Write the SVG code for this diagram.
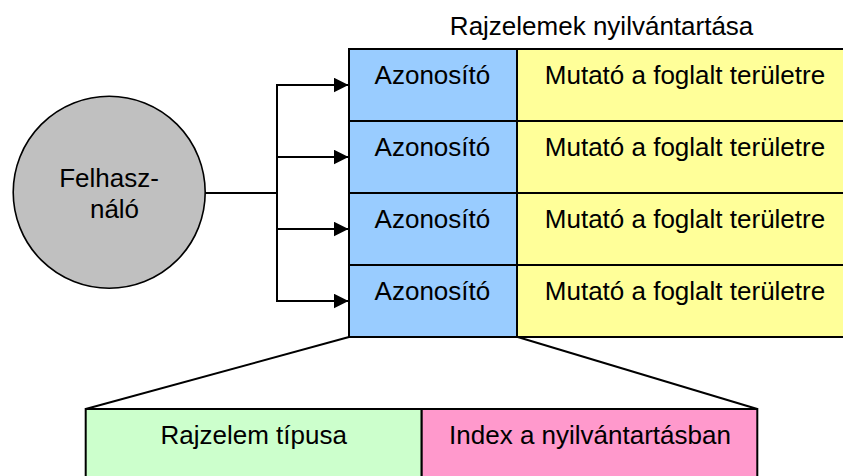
<svg xmlns="http://www.w3.org/2000/svg" width="843" height="476" viewBox="0 0 843 476">
  <style>
    text { font-family: "Liberation Sans", Arial, sans-serif; font-size: 26px; fill: #000; }
    .mid { text-anchor: middle; }
    .cell { stroke: #000; stroke-width: 2; }
    .id { fill: #99ccff; }
    .ptr { fill: #ffff99; }
    .type { fill: #ccffcc; }
    .idx { fill: #ff99cc; }
    .wire { fill: none; stroke: #000; stroke-width: 2; }
  </style>
  <defs>
    <marker id="arrow" markerUnits="userSpaceOnUse" markerWidth="16" markerHeight="16" refX="15" refY="7.5" orient="auto">
      <path d="M0,0 L15,7.5 L0,15 z" fill="#000"/>
    </marker>
  </defs>
  <rect width="843" height="476" fill="#fff"/>

  <!-- user -->
  <g id="user">
    <circle cx="109.2" cy="192.3" r="96" fill="#c0c0c0" stroke="#000" stroke-width="1.6"/>
    <text class="mid" x="109" y="186.7">Felhasz-</text>
    <text class="mid" x="114.5" y="218.3">náló</text>
  </g>

  <!-- registry table -->
  <g id="registry">
    <text class="mid" x="601.6" y="35">Rajzelemek nyilvántartása</text>
    <g id="row1">
      <rect class="cell id" x="349" y="49" width="168" height="72"/>
      <rect class="cell ptr" x="517" y="49" width="330" height="72"/>
      <text class="mid" x="432.4" y="84">Azonosító</text>
      <text class="mid" x="685" y="84">Mutató a foglalt területre</text>
    </g>
    <g id="row2">
      <rect class="cell id" x="349" y="121" width="168" height="72"/>
      <rect class="cell ptr" x="517" y="121" width="330" height="72"/>
      <text class="mid" x="432.4" y="156">Azonosító</text>
      <text class="mid" x="685" y="156">Mutató a foglalt területre</text>
    </g>
    <g id="row3">
      <rect class="cell id" x="349" y="193" width="168" height="72"/>
      <rect class="cell ptr" x="517" y="193" width="330" height="72"/>
      <text class="mid" x="432.4" y="228">Azonosító</text>
      <text class="mid" x="685" y="228">Mutató a foglalt területre</text>
    </g>
    <g id="row4">
      <rect class="cell id" x="349" y="265" width="168" height="72"/>
      <rect class="cell ptr" x="517" y="265" width="330" height="72"/>
      <text class="mid" x="432.4" y="300">Azonosító</text>
      <text class="mid" x="685" y="300">Mutató a foglalt területre</text>
    </g>
  </g>

  <!-- identifier detail -->
  <g id="identifier">
    <rect class="cell type" x="85.7" y="409" width="336" height="80"/>
    <rect class="cell idx" x="421.7" y="409" width="335.6" height="80"/>
    <text class="mid" x="253.7" y="444.3">Rajzelem típusa</text>
    <text class="mid" x="590" y="444.3">Index a nyilvántartásban</text>
  </g>

  <!-- connectors -->
  <g id="connectors">
    <path class="wire" d="M205.5,193 H277 M277,85 V301"/>
    <line class="wire" x1="276" y1="85" x2="348.5" y2="85" marker-end="url(#arrow)"/>
    <line class="wire" x1="276" y1="157" x2="348.5" y2="157" marker-end="url(#arrow)"/>
    <line class="wire" x1="276" y1="229" x2="348.5" y2="229" marker-end="url(#arrow)"/>
    <line class="wire" x1="276" y1="301" x2="348.5" y2="301" marker-end="url(#arrow)"/>
    <line class="wire" x1="349" y1="337" x2="85.7" y2="409"/>
    <line class="wire" x1="517.7" y1="337" x2="757.3" y2="409"/>
  </g>
</svg>
